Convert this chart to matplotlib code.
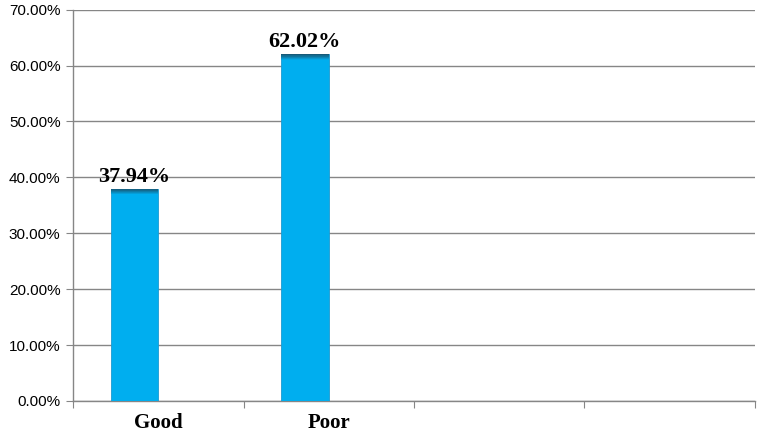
import numpy as np
import matplotlib.pyplot as plt
import matplotlib.colors as mcolors

# 数据
categories = ['Good', 'Poor', '', '']
values = [37.94, 62.02]
value_labels = ['37.94%', '62.02%']
y_ticks = [0, 10, 20, 30, 40, 50, 60, 70]

fig = plt.figure(figsize=(7.59, 4.36), dpi=100)
ax = fig.add_axes([0.0962, 0.0803, 0.8985, 0.8975])

n_slots = len(categories)
bar_w = 0.28
bar_x = np.arange(len(values)) - bar_w / 2

bar_color = '#00AEEF'
cap_color = '#175A78'
ax.bar(bar_x, values, width=bar_w, color=bar_color, edgecolor='#1C9AD0',
       linewidth=0.6, zorder=3)

# 柱顶深色渐变
cap_h = 1.0
steps = 10
cmap = mcolors.LinearSegmentedColormap.from_list('cap', [bar_color, cap_color])
for i in range(steps):
    frac = (i + 1) / steps
    for x, v in zip(bar_x, values):
        ax.bar(x, cap_h / steps, bottom=v - cap_h + i * cap_h / steps,
               width=bar_w, color=cmap(frac), linewidth=0, zorder=4)

for x, v, lab in zip(bar_x, values, value_labels):
    ax.text(x, v + 0.4, lab, ha='center', va='bottom', fontsize=16,
            fontweight='bold', family='Liberation Serif', zorder=5)

ax.set_xlim(-0.5, n_slots - 0.5)
ax.set_ylim(0, 70)
ax.set_yticks(y_ticks)
ax.set_yticklabels([f'{t:.2f}%' for t in y_ticks], family='Liberation Sans',
                   fontsize=11)

# x轴刻度在分类边界
ax.set_xticks(np.arange(n_slots + 1) - 0.5)
ax.set_xticklabels([])
ax.set_xticks(np.arange(n_slots), minor=True)
ax.set_xticklabels(categories, minor=True, family='Liberation Serif',
                   fontsize=15, fontweight='bold')
ax.tick_params(axis='x', which='minor', length=0, pad=9)
ax.tick_params(axis='x', which='major', length=5, color='#868686', direction='out')
ax.tick_params(axis='y', length=5, color='#868686', pad=4)

ax.grid(axis='y', color='#868686', linewidth=1.0, zorder=0)
ax.set_axisbelow(True)
for s in ['top', 'right']:
    ax.spines[s].set_visible(False)
for s in ['left', 'bottom']:
    ax.spines[s].set_color('#868686')
    ax.spines[s].set_linewidth(1.0)

fig.savefig('out.png', dpi=100)
